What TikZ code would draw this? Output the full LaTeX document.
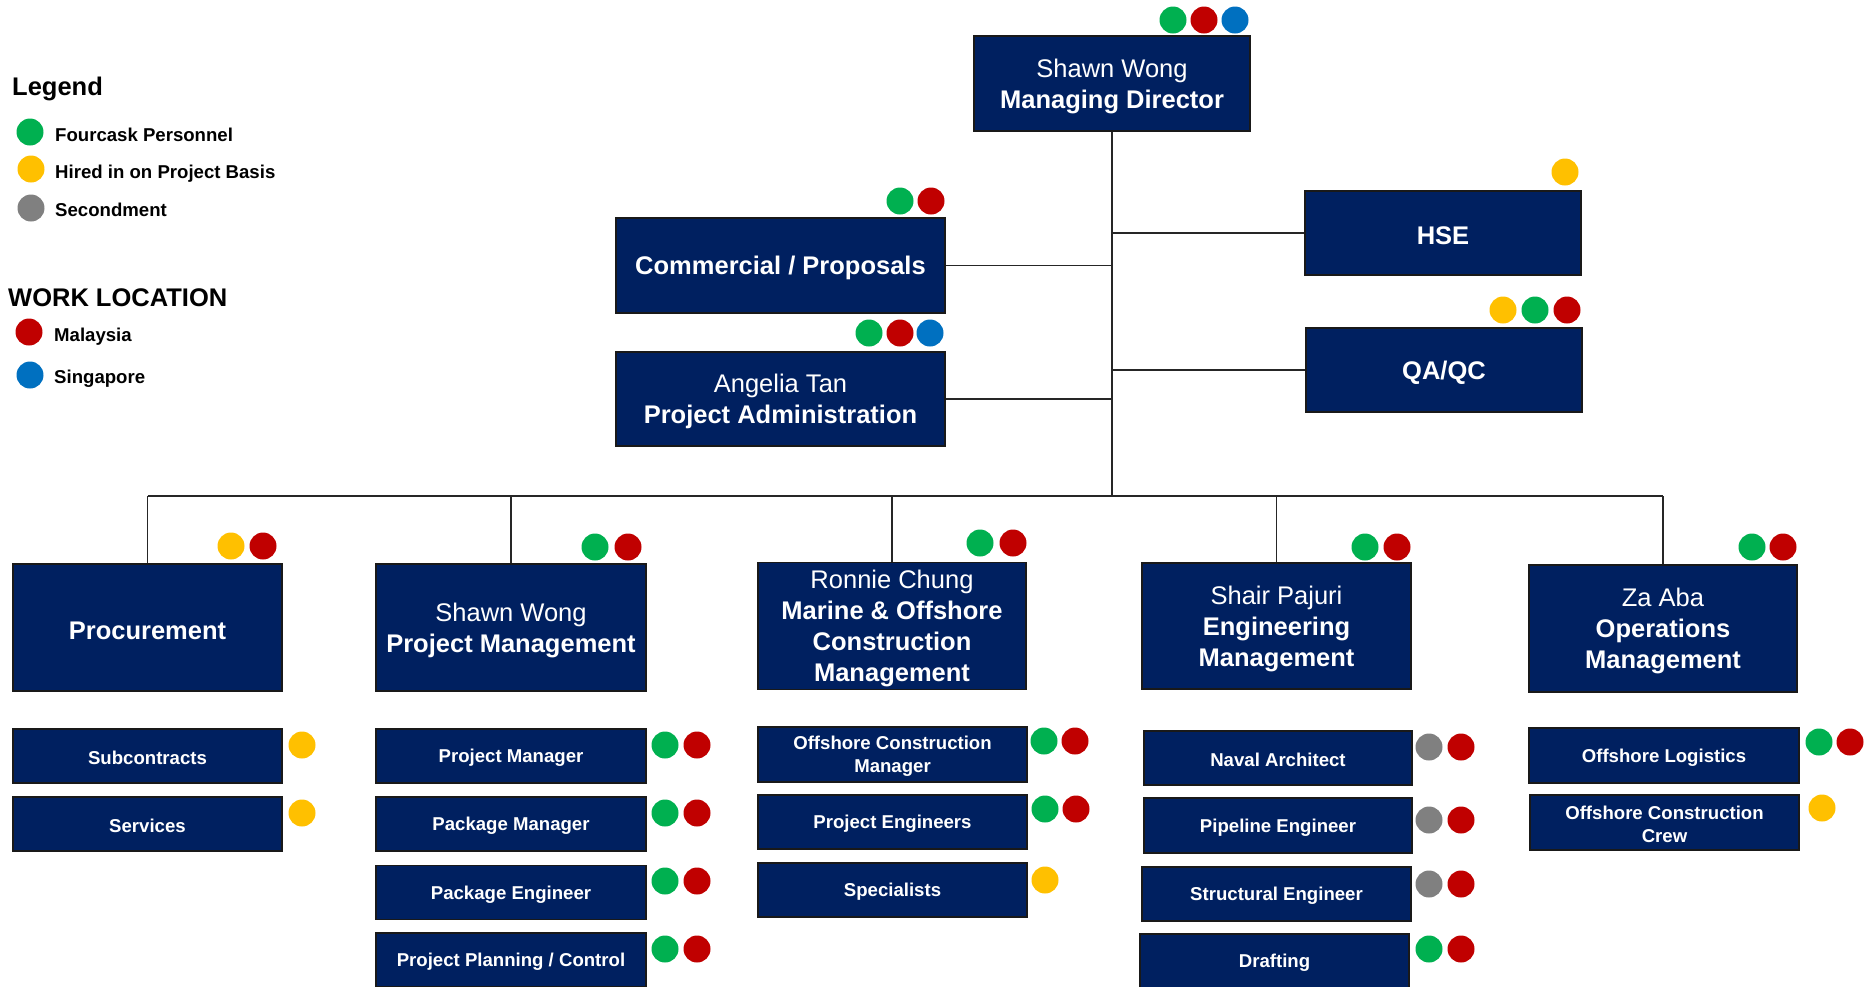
\documentclass[tikz,border=0pt]{standalone}
\usepackage{fontspec}
\setmainfont{Liberation Sans}
\definecolor{navy}{HTML}{002060}
\definecolor{cg}{HTML}{00B050}
\definecolor{cr}{HTML}{C00000}
\definecolor{cy}{HTML}{FFC000}
\definecolor{cgr}{HTML}{808080}
\definecolor{cb}{HTML}{0070C0}
\newcommand{\up}{\rule{0pt}{0.95em}}
\tikzset{
  box/.style={draw=black!90, line width=1.6pt, fill=navy, text=white, align=center, inner sep=2pt,
    font=\bfseries\fontsize{25.5}{31}\selectfont},
  subbox/.style={box, font=\bfseries\fontsize{18.6}{23}\selectfont},
  link/.style={draw=black!85, line width=1.4pt},
  legtext/.style={anchor=base west, inner sep=0pt, font=\bfseries\fontsize{18.6}{22}\selectfont},
  legtitle/.style={anchor=base west, inner sep=0pt, font=\bfseries\fontsize{25.5}{30}\selectfont}
}
\newcommand{\dt}[3]{\fill[#1] (#2,#3) circle (13.5);}
\begin{document}
\begin{tikzpicture}[x=1pt,y=-1pt]
\useasboundingbox (0,0) rectangle (1866,986);
% legend
\node[legtitle] (lg) at (12,95) {Legend};
\dt{cg}{30}{132}\node[legtext] (l1) at (55,141) {Fourcask Personnel};
\dt{cy}{31}{169}\node[legtext] (l2) at (55,178) {Hired in on Project Basis};
\dt{cgr}{31}{208}\node[legtext] (l3) at (55,216) {Secondment};
\node[legtitle] (wl) at (8,306) {WORK LOCATION};
\dt{cr}{29}{332}\node[legtext] (l4) at (54,341) {Malaysia};
\dt{cb}{30}{375}\node[legtext] (l5) at (54,383) {Singapore};
% top level
\node[box, minimum width=276, minimum height=95] (md) at (1112,83.5) {\up{\mdseries Shawn Wong}\\Managing Director};
\node[box, minimum width=329, minimum height=95] (com) at (780.5,265.5) {\up Commercial / Proposals};
\node[box, minimum width=329, minimum height=94] (adm) at (780.5,399) {\up{\mdseries Angelia Tan}\\Project Administration};
\node[box, minimum width=276, minimum height=84] (hse) at (1443,233) {\up HSE};
\node[box, minimum width=276, minimum height=84] (qa) at (1444,370) {\up QA/QC};
% second level
\node[box, minimum width=269, minimum height=127] (proc) at (147.5,627.5) {\up Procurement};
\node[box, minimum width=270, minimum height=127] (pm) at (511,627.5) {\up{\mdseries Shawn Wong}\\Project Management};
\node[box, minimum width=268, minimum height=126] (mo) at (892,626) {\up{\mdseries Ronnie Chung}\\Marine \& Offshore\\Construction\\Management};
\node[box, minimum width=269, minimum height=126] (eng) at (1276.5,626) {\up{\mdseries Shair Pajuri}\\Engineering\\Management};
\node[box, minimum width=268, minimum height=127] (ops) at (1663,628.5) {\up{\mdseries Za Aba}\\Operations\\Management};
% sub boxes
\node[subbox, minimum width=269, minimum height=54] (s1) at (147.5,756) {\up Subcontracts};
\node[subbox, minimum width=269, minimum height=54] (s2) at (147.5,824) {\up Services};
\node[subbox, minimum width=270, minimum height=54] (p1) at (511,756) {\up Project Manager};
\node[subbox, minimum width=270, minimum height=54] (p2) at (511,824) {\up Package Manager};
\node[subbox, minimum width=270, minimum height=54] (p3) at (511,892.5) {\up Package Engineer};
\node[subbox, minimum width=270, minimum height=54] (p4) at (511,960) {\up Project Planning / Control};
\node[subbox, minimum width=269, minimum height=55] (m1) at (892.5,754.5) {\up Offshore Construction\\Manager};
\node[subbox, minimum width=269, minimum height=54] (m2) at (892.5,822) {\up Project Engineers};
\node[subbox, minimum width=269, minimum height=54] (m3) at (892.5,890) {\up Specialists};
\node[subbox, minimum width=268, minimum height=54] (e1) at (1278,758) {\up Naval Architect};
\node[subbox, minimum width=268, minimum height=55] (e2) at (1278,825.5) {\up Pipeline Engineer};
\node[subbox, minimum width=269, minimum height=54] (e3) at (1276.5,894) {\up Structural Engineer};
\node[subbox, minimum width=269, minimum height=54] (e4) at (1274.5,961) {\up Drafting};
\node[subbox, minimum width=270, minimum height=55] (o1) at (1664,755.5) {\up Offshore Logistics};
\node[subbox, minimum width=269, minimum height=55] (o2) at (1664.5,822.5) {\up Offshore Construction\\Crew};
% connectors
\coordinate (bus) at (1113,496);
\draw[link] (md.south) -- (md.south |- bus);
\draw[link] (proc.north |- bus) -- (ops.north |- bus);
\foreach \n in {proc,pm,mo,eng,ops} \draw[link] (\n.north) -- (\n.north |- bus);
\draw[link] (com.east) -- (com.east -| bus);
\draw[link] (adm.east) -- (adm.east -| bus);
\draw[link] (hse.west) -- (hse.west -| bus);
\draw[link] (qa.west) -- (qa.west -| bus);
% dots
\dt{cg}{1173}{20}\dt{cr}{1204}{20}\dt{cb}{1235}{20}
\dt{cg}{900}{201}\dt{cr}{931}{201}
\dt{cg}{869}{333}\dt{cr}{900}{333}\dt{cb}{930}{333}
\dt{cy}{1565}{172}
\dt{cy}{1503}{310}\dt{cg}{1535}{310}\dt{cr}{1567}{310}
\dt{cy}{231}{546}\dt{cr}{263}{546}
\dt{cg}{595}{547}\dt{cr}{628}{547}
\dt{cg}{980}{543}\dt{cr}{1013}{543}
\dt{cg}{1365}{547}\dt{cr}{1397}{547}
\dt{cg}{1752}{547}\dt{cr}{1783}{547}
\dt{cy}{302}{745}\dt{cy}{302}{813}
\foreach \yy in {745,813,881,949} {\dt{cg}{665}{\yy}\dt{cr}{697}{\yy}}
\dt{cg}{1044}{741}\dt{cr}{1075}{741}
\dt{cg}{1045}{809}\dt{cr}{1076}{809}
\dt{cy}{1045}{880}
\foreach \yy in {747,820,884} {\dt{cgr}{1429}{\yy}\dt{cr}{1461}{\yy}}
\dt{cg}{1429}{949}\dt{cr}{1461}{949}
\dt{cg}{1819}{742}\dt{cr}{1850}{742}
\dt{cy}{1822}{808}
\end{tikzpicture}
\end{document}
